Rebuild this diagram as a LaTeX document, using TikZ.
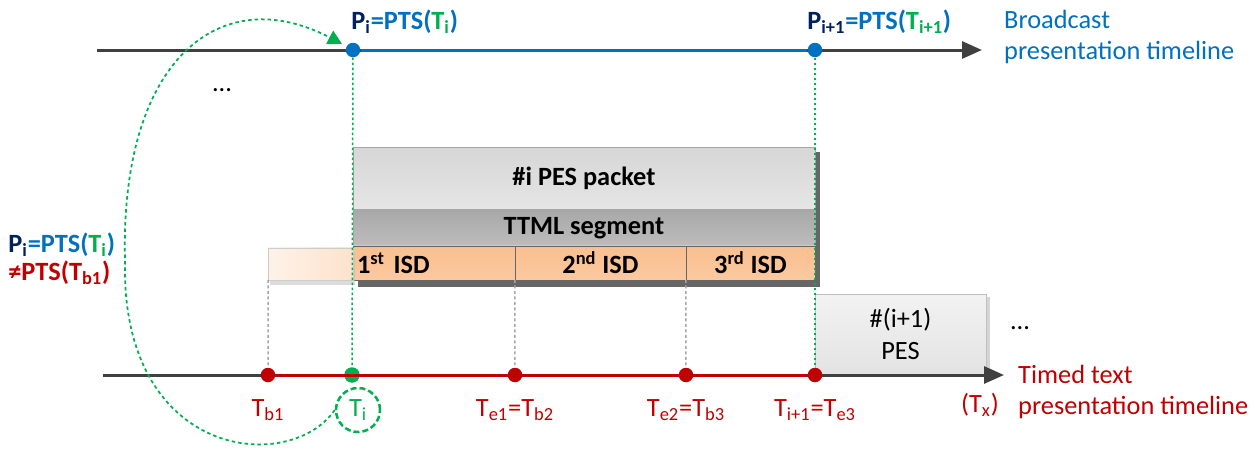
\documentclass[tikz,border=0pt]{standalone}
\usepackage{fontspec}
\setmainfont{Carlito}
\usepackage{xcolor}
\usetikzlibrary{arrows.meta,positioning,shadows}
\definecolor{ptsblue}{RGB}{0,112,192}
\definecolor{pnavy}{RGB}{0,32,96}
\definecolor{tgreen}{RGB}{0,176,80}
\definecolor{tred}{RGB}{192,0,0}
\definecolor{axisgrey}{RGB}{64,64,64}
\definecolor{isdorange}{RGB}{250,191,143}

\begin{document}
\begin{tikzpicture}[
    x=0.02cm, y=-0.02cm,
    font=\fontsize{15}{18}\selectfont,
    axis/.style={line width=0.06cm, axisgrey, -{Triangle[length=0.4cm, width=0.34cm]}},
    span/.style={line width=0.06cm},
    dot/.style={circle, inner sep=0, minimum size=0.29cm},
    greenguide/.style={tgreen, line width=0.03cm, dash pattern=on 0.05cm off 0.05cm},
    greyguide/.style={gray!70, line width=0.03cm, dash pattern=on 0.06cm off 0.05cm},
    box/.style={rectangle, inner sep=0, outer sep=0, font=\fontsize{15}{18}\selectfont\bfseries},
    pesbox/.style={box, draw=gray!70, top color=gray!32, bottom color=gray!20, minimum width=9.24cm, minimum height=1.26cm},
    ttmlbox/.style={box, draw=gray!70, top color=gray!68, bottom color=gray!52, minimum width=9.24cm, minimum height=0.72cm},
    isdbox/.style={box, draw=gray!80!black, top color=isdorange, bottom color=isdorange!85, minimum height=0.68cm},
    ptslabel/.style={inner sep=0, font=\fontsize{15}{18}\selectfont\bfseries, ptsblue},
    timelabel/.style={inner sep=1pt, tred},
    ticircle/.style={circle, draw=tgreen, line width=0.05cm, dash pattern=on 0.12cm off 0.06cm, inner sep=0, minimum size=0.88cm, tgreen}
]
\useasboundingbox (0,0) rectangle (1259,450);
\fill[black!60] (358,152) rectangle (820,287);

\node[pesbox, anchor=north west] (pes) at (353,147) {\#i PES packet};
\node[ttmlbox, below=0pt of pes] (ttml) {TTML segment};
\node[isdbox, minimum width=3.24cm, text width=3.08cm, align=left, anchor=north west] (isd1) at (ttml.south west) {1\textsuperscript{st}~ISD};
\node[isdbox, minimum width=3.42cm, right=0pt of isd1] (isd2) {2\textsuperscript{nd}~ISD};
\node[isdbox, minimum width=2.58cm, right=0pt of isd2] (isd3) {3\textsuperscript{rd}~ISD};
\node[box, draw=gray!40, left color=isdorange!20, right color=isdorange!45, minimum width=1.7cm, minimum height=0.64cm, anchor=south east, drop shadow={shadow xshift=0.03cm, shadow yshift=-0.1cm, fill=gray!55}] (fade) at (isd1.south west) {};

\node[box, font=\fontsize{15}{18}\selectfont, draw=gray!50, top color=gray!10, bottom color=gray!22, minimum width=3.42cm, minimum height=1.6cm, align=center, anchor=north west, drop shadow={shadow xshift=0.08cm, shadow yshift=-0.06cm, fill=gray!65}] (nextpes) at (815,294) {\#(i+1)\\PES};

\coordinate (bstart) at (97,50);
\coordinate (bend) at (982,50);
\coordinate (tstart) at (103,375);
\coordinate (tend) at (1004,375);
\draw[axis] (bstart) -- (bend);
\draw[axis] (tstart) -- (tend);

\node[dot, fill=ptsblue] (pi) at (353,50) {};
\node[dot, fill=ptsblue] (pi1) at (815,50) {};
\node[dot, fill=tred] (tb1) at (268,375) {};
\node[dot, fill=tgreen, minimum size=0.31cm] (ti) at (352,375) {};
\node[dot, fill=tred] (te1) at (515,375) {};
\node[dot, fill=tred] (te2) at (686,375) {};
\node[dot, fill=tred] (ti1) at (815,375) {};

\draw[span, ptsblue] (pi) -- (pi1);
\draw[span, tred] (tb1) -- (ti1);

\draw[greenguide] (pi) -- (ti);
\draw[greenguide] (pi1) -- (ti1);
\draw[greyguide] (fade.south west) -- (tb1);
\draw[greyguide] (isd2.south west) -- (te1);
\draw[greyguide] (isd3.south west) -- (te2);

\node[ptslabel, anchor=west] (ptsi) at (351,22) {{\color{pnavy}P\textsubscript{i}}=PTS({\color{tgreen}T\textsubscript{i}})};
\node[ptslabel, anchor=west] (ptsi1) at (807,22) {{\color{pnavy}P\textsubscript{i+1}}=PTS({\color{tgreen}T\textsubscript{i+1}})};
\node[anchor=west, align=left, ptsblue] (bline) at (998,37) {Broadcast\\presentation timeline};
\node (dots1) at (222,90) {...};
\node (dots2) at (1020,328) {...};

\node[ptslabel, anchor=west, align=left, font=\fontsize{15}{16}\selectfont\bfseries] (neq) at (8,259) {{\color{pnavy}P\textsubscript{i}}=PTS({\color{tgreen}T\textsubscript{i}})\\{\color{tred}≠PTS(T\textsubscript{b1})}};

\node[timelabel, below=0.3cm of tb1] (lb1) {T\textsubscript{b1}};
\node[ticircle] (ticirc) at (358,410) {T\textsubscript{i}};
\node[timelabel, below=0.3cm of te1] (le1) {T\textsubscript{e1}=T\textsubscript{b2}};
\node[timelabel, below=0.3cm of te2] (le2) {T\textsubscript{e2}=T\textsubscript{b3}};
\node[timelabel, below=0.3cm of ti1] (li1) {T\textsubscript{i+1}=T\textsubscript{e3}};
\node[timelabel] (tx) at (980,405) {(T\textsubscript{x})};
\node[anchor=west, align=left, tred] (tline) at (1012,392) {Timed text\\presentation timeline};

\draw[greenguide, line width=0.035cm, dash pattern=on 0.07cm off 0.06cm, -{Triangle[length=0.28cm, width=0.3cm]}, shorten >=0.1cm]
    (ticirc.west) .. controls (290,475) and (120,460) .. (125,260)
    .. controls (120,60) and (220,-20) .. (pi.150);
\end{tikzpicture}
\end{document}
